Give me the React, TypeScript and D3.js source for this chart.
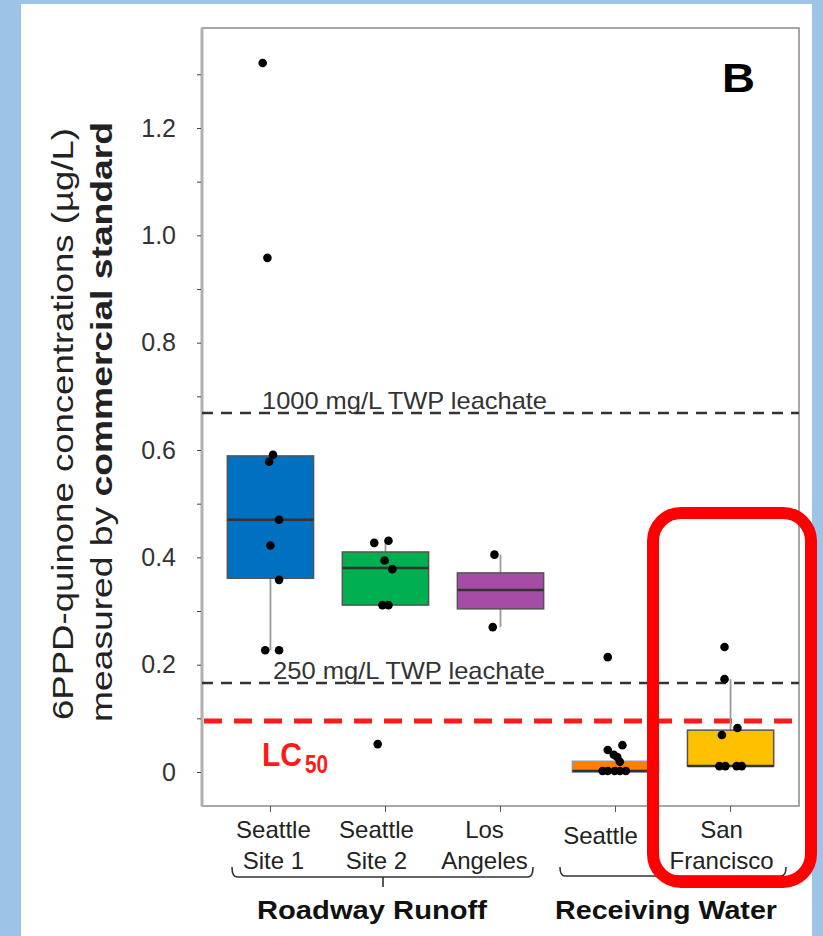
import React, { useEffect, useRef } from "react";
import * as d3 from "d3";

// sites, grouped as roadway runoff (first three) and receiving water (last two)
const categories = ["Seattle Site 1", "Seattle Site 2", "Los Angeles", "Seattle", "San Francisco"];
const categoryLines = [["Seattle", "Site 1"], ["Seattle", "Site 2"], ["Los", "Angeles"], ["Seattle"], ["San", "Francisco"]];
const boxColors = ["#0070c0", "#00b050", "#a64ca6", "#ff8000", "#ffc000"];

// box stats (ug/L)
const q1 = [0.361, 0.311, 0.304, 0.0, 0.011];
const medians = [0.47, 0.38, 0.339, 0.002, 0.011];
const q3 = [0.589, 0.41, 0.371, 0.02, 0.078];
const whiskerLow = [0.227, 0.311, 0.27, 0.0, 0.011];
const whiskerHigh = [0.591, 0.431, 0.405, 0.02, 0.173];

// measured samples, with jitter as a share of the box width
const site1Values = [1.321, 0.958, 0.591, 0.578, 0.47, 0.422, 0.358, 0.227, 0.227];
const site1Jitter = [-0.09, -0.035, 0.03, -0.015, 0.1, 0.0, 0.1, -0.06, 0.1];
const site2Values = [0.427, 0.431, 0.394, 0.378, 0.311, 0.311, 0.052];
const site2Jitter = [-0.13, 0.035, -0.01, 0.08, -0.035, 0.035, -0.09];
const laValues = [0.405, 0.27];
const laJitter = [-0.07, -0.09];
const seattleValues = [0.214, 0.05, 0.041, 0.032, 0.028, 0.019, 0.002, 0.002, 0.002, 0.002, 0.002];
const seattleJitter = [-0.09, 0.08, -0.09, -0.02, 0.02, 0.05, -0.15, -0.09, -0.01, 0.05, 0.12];
const sfValues = [0.233, 0.173, 0.082, 0.069, 0.011, 0.011, 0.011, 0.011];
const sfJitter = [-0.07, -0.07, 0.08, -0.1, -0.13, -0.06, 0.07, 0.13];

const pointValues = [site1Values, site2Values, laValues, seattleValues, sfValues];
const pointJitter = [site1Jitter, site2Jitter, laJitter, seattleJitter, sfJitter];

const yTicks = [0, 0.2, 0.4, 0.6, 0.8, 1.0, 1.2];
const yMinorTicks = [0.1, 0.3, 0.5, 0.7, 0.9, 1.1, 1.3];

const refValues = [0.669, 0.166];
const refLabels = ["1000 mg/L TWP leachate", "250 mg/L TWP leachate"];
const lc50 = 0.095;

const groupNames = ["Roadway Runoff", "Receiving Water"];

const FONT = "'Liberation Sans', Arial, Helvetica, sans-serif";

export default function App() {
  const ref = useRef<SVGSVGElement>(null);

  useEffect(() => {
    const svg = d3.select(ref.current);
    svg.selectAll("*").remove();

    const left = 202, right = 799, top = 28, bottom = 806;

    const x = d3.scaleBand().domain(categories).range([left, right]).paddingInner(0.25).paddingOuter(0.22);
    const y = d3.scaleLinear().domain([0, 1.2]).range([772, 128]);
    const bw = x.bandwidth();
    const cx = (i: number) => (x(categories[i]) as number) + bw / 2;

    // background + white panel
    svg.append("rect").attr("width", 823).attr("height", 936).attr("fill", "#9dc3e6");
    svg.append("rect").attr("x", 21).attr("y", 4).attr("width", 791).attr("height", 932).attr("fill", "#fff");

    // frame
    svg.append("rect")
      .attr("x", left).attr("y", top).attr("width", right - left).attr("height", bottom - top)
      .attr("fill", "none").attr("stroke", "#8a8a8a").attr("stroke-width", 1.5);
    svg.append("line")
      .attr("x1", left).attr("x2", left).attr("y1", top).attr("y2", bottom)
      .attr("stroke", "#b0b0b0").attr("stroke-width", 3);

    // y axis
    const yAxis = svg.append("g").attr("transform", `translate(${left - 1},0)`)
      .call(d3.axisLeft(y).tickValues(yTicks).tickSize(4).tickPadding(21)
        .tickFormat(d => (+d === 0 ? "0" : d3.format(".1f")(+d))));
    yAxis.select(".domain").remove();
    yAxis.selectAll("text").attr("font-family", FONT).attr("font-size", 25).attr("fill", "#333");
    yAxis.selectAll("line").attr("stroke", "#444");
    svg.append("g").attr("transform", `translate(${left - 1},0)`)
      .call(d3.axisLeft(y).tickValues(yMinorTicks).tickSize(4).tickFormat(() => ""))
      .call(g => g.select(".domain").remove())
      .selectAll("line").attr("stroke", "#444");

    // x ticks
    svg.append("g").attr("transform", `translate(0,${bottom})`)
      .call(d3.axisBottom(x).tickSize(6).tickFormat(() => ""))
      .call(g => g.select(".domain").remove())
      .selectAll("line").attr("stroke", "#555");

    // reference lines
    refValues.forEach(v => {
      svg.append("line")
        .attr("x1", left).attr("x2", right).attr("y1", y(v)).attr("y2", y(v))
        .attr("stroke", "#333").attr("stroke-width", 2.5).attr("stroke-dasharray", "11,8");
    });
    svg.append("line")
      .attr("x1", left + 2).attr("x2", right).attr("y1", y(lc50)).attr("y2", y(lc50))
      .attr("stroke", "#ff1a1a").attr("stroke-width", 5).attr("stroke-dasharray", "18,12");

    // boxes
    categories.forEach((c, i) => {
      const g = svg.append("g");
      g.append("line")
        .attr("x1", cx(i)).attr("x2", cx(i)).attr("y1", y(whiskerLow[i])).attr("y2", y(whiskerHigh[i]))
        .attr("stroke", "#9a9a9a").attr("stroke-width", 1.8);
      g.append("rect")
        .attr("x", x(c) as number).attr("width", bw)
        .attr("y", y(q3[i])).attr("height", y(q1[i]) - y(q3[i]))
        .attr("fill", boxColors[i]).attr("stroke", i === 3 ? "#7f9fbf" : "#555").attr("stroke-width", 1.5);
      g.append("line")
        .attr("x1", x(c) as number).attr("x2", (x(c) as number) + bw)
        .attr("y1", y(medians[i])).attr("y2", y(medians[i]))
        .attr("stroke", "#333").attr("stroke-width", 2.5);
    });

    // points
    categories.forEach((c, i) => {
      svg.append("g").selectAll("circle")
        .data(pointValues[i])
        .join("circle")
        .attr("cx", (d, j) => cx(i) + pointJitter[i][j] * bw)
        .attr("cy", d => y(d))
        .attr("r", 4.3)
        .attr("fill", "#000");
    });

    // reference labels
    const refX = [262, 273];
    const refLen = [285, 272];
    refLabels.forEach((t, i) => {
      svg.append("text")
        .attr("x", refX[i]).attr("y", y(refValues[i]) - 4)
        .attr("font-family", FONT).attr("font-size", 24).attr("fill", "#333")
        .attr("textLength", refLen[i]).attr("lengthAdjust", "spacingAndGlyphs")
        .text(t);
    });

    // LC50
    svg.append("text")
      .attr("x", 262).attr("y", 766)
      .attr("font-family", FONT).attr("font-size", 33).attr("font-weight", "bold").attr("fill", "#ff1a1a")
      .attr("textLength", 40).attr("lengthAdjust", "spacingAndGlyphs")
      .text("LC");
    svg.append("text")
      .attr("x", 305).attr("y", 773)
      .attr("font-family", FONT).attr("font-size", 26).attr("font-weight", "bold").attr("fill", "#ff1a1a")
      .attr("textLength", 23).attr("lengthAdjust", "spacingAndGlyphs")
      .text("50");

    // panel letter
    svg.append("text")
      .attr("x", 722).attr("y", 92)
      .attr("font-family", FONT).attr("font-size", 40).attr("font-weight", "bold").attr("fill", "#000")
      .attr("textLength", 33).attr("lengthAdjust", "spacingAndGlyphs")
      .text("B");

    // y label (condensed, as in the source figure)
    svg.append("text")
      .attr("transform", "translate(73,424) rotate(-90)")
      .attr("text-anchor", "middle")
      .attr("font-family", FONT).attr("font-size", 30).attr("fill", "#222")
      .attr("textLength", 592).attr("lengthAdjust", "spacingAndGlyphs")
      .text("6PPD-quinone concentrations (µg/L)");
    const yl2 = svg.append("text")
      .attr("transform", "translate(112,422) rotate(-90)")
      .attr("text-anchor", "middle")
      .attr("font-family", FONT).attr("font-size", 30).attr("fill", "#222")
      .attr("textLength", 600).attr("lengthAdjust", "spacingAndGlyphs");
    yl2.append("tspan").text("measured by ");
    yl2.append("tspan").attr("font-weight", "bold").text("commercial standard");

    // category labels
    const labelNudge = [3, -9, -16, -15, -9];
    categories.forEach((c, i) => {
      const lines = categoryLines[i];
      const t = svg.append("text")
        .attr("text-anchor", "middle")
        .attr("font-family", FONT).attr("font-size", 24).attr("fill", "#222");
      lines.forEach((l, k) => {
        t.append("tspan")
          .attr("x", cx(i) + labelNudge[i])
          .attr("y", lines.length === 1 ? 844 : 838 + k * 31)
          .text(l);
      });
    });

    // group braces
    const braces = [
      { x0: 232, x1: 533, mid: 383, yLine: 877 },
      { x0: 560, x1: 786, mid: 673, yLine: 876 },
    ];
    braces.forEach(b => {
      const p = d3.path();
      p.moveTo(b.x0, 867);
      p.quadraticCurveTo(b.x0, b.yLine, b.x0 + 5, b.yLine);
      p.lineTo(b.x1 - 5, b.yLine);
      p.quadraticCurveTo(b.x1, b.yLine, b.x1, 867);
      p.moveTo(b.mid, b.yLine);
      p.lineTo(b.mid, b.yLine + 10);
      svg.append("path").attr("d", p.toString())
        .attr("fill", "none").attr("stroke", "#333").attr("stroke-width", 1.6);
    });

    const groupX = [372, 666];
    const groupLen = [230, 222];
    groupNames.forEach((n, i) => {
      svg.append("text")
        .attr("x", groupX[i]).attr("y", 919)
        .attr("text-anchor", "middle")
        .attr("font-family", FONT).attr("font-size", 25).attr("font-weight", "bold").attr("fill", "#111")
        .attr("textLength", groupLen[i]).attr("lengthAdjust", "spacingAndGlyphs")
        .text(n);
    });

    // red highlight around San Francisco
    svg.append("rect")
      .attr("x", 653).attr("y", 513).attr("width", 158).attr("height", 369)
      .attr("rx", 28).attr("ry", 28)
      .attr("fill", "none").attr("stroke", "#ff0000").attr("stroke-width", 12);
  }, []);

  return (
    <svg
      ref={ref}
      width={823}
      height={936}
      style={{ position: "absolute", left: 0, top: 0, display: "block" }}
    />
  );
}
